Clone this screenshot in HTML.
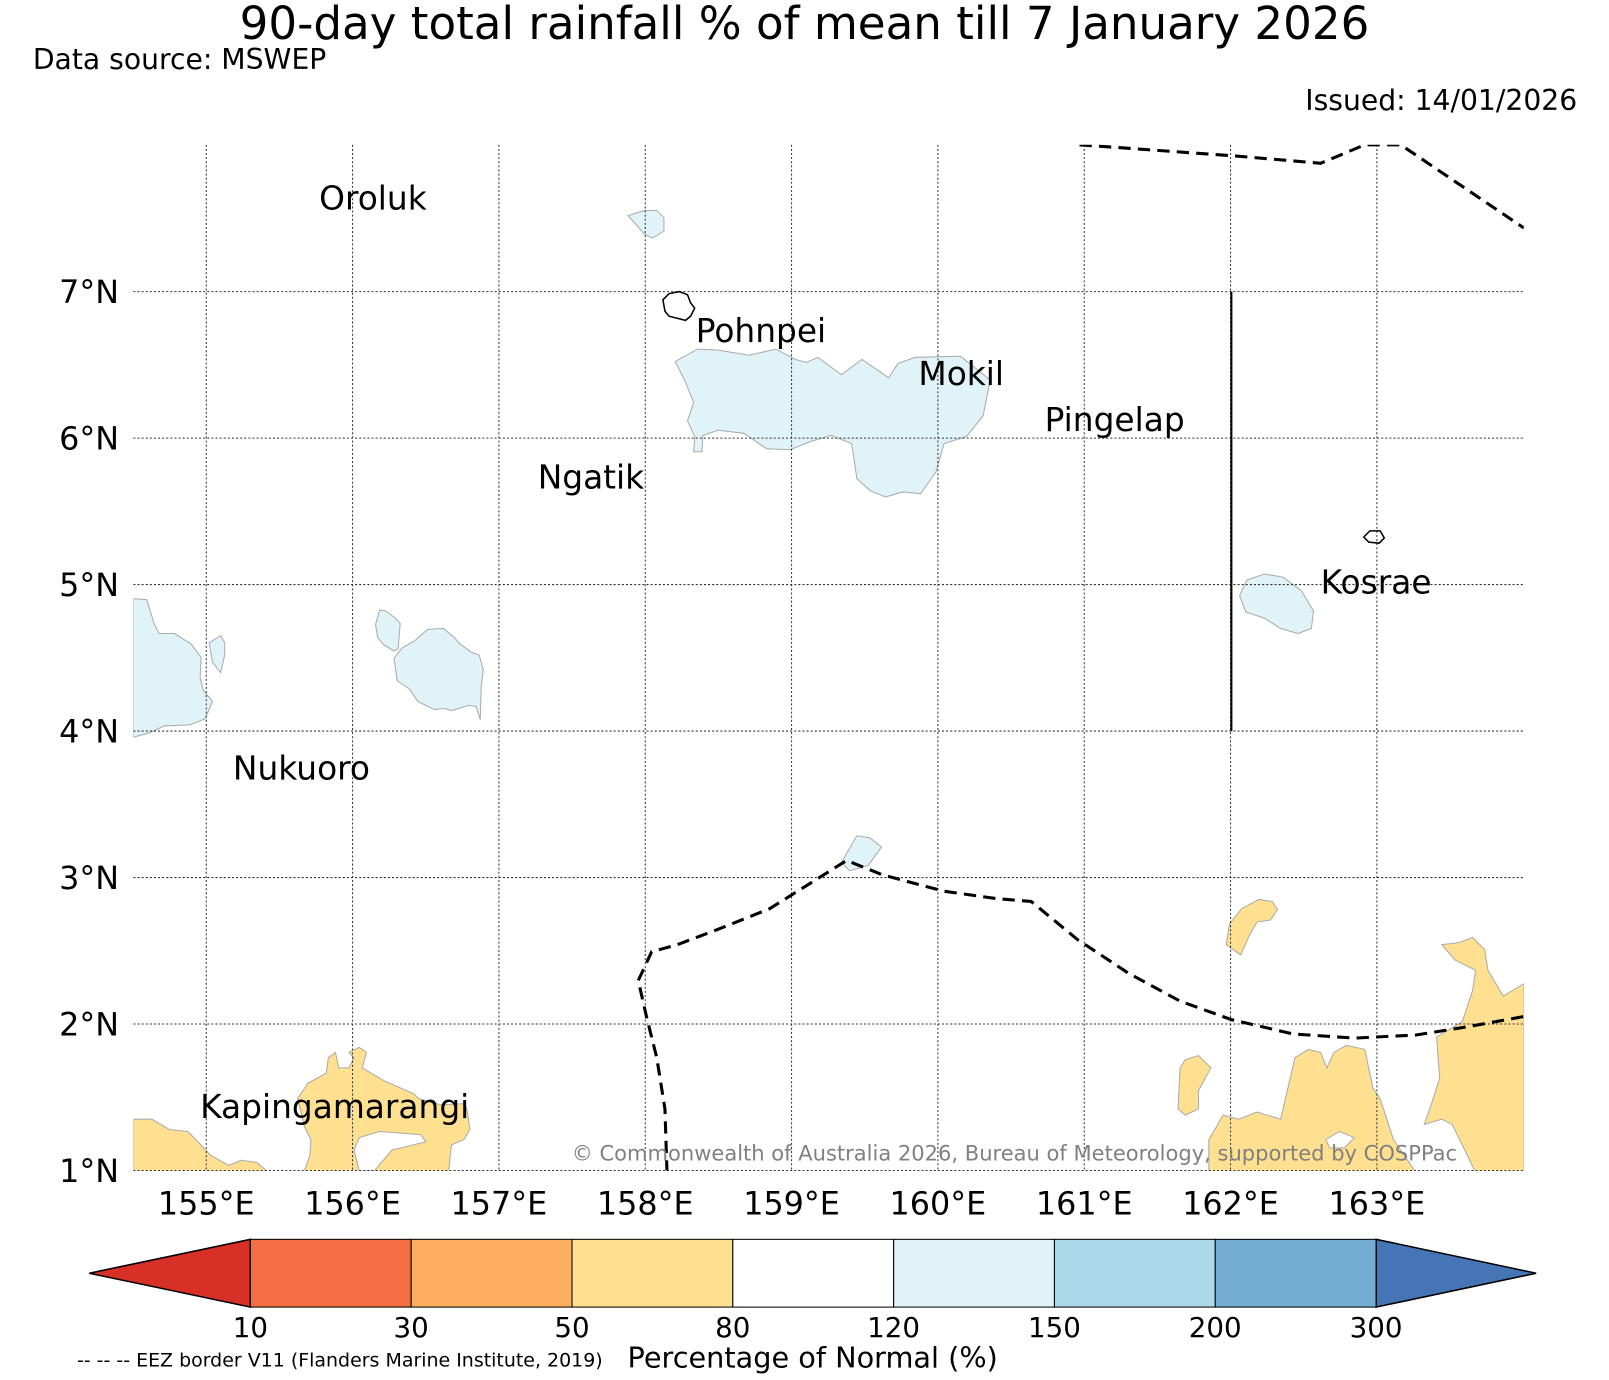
<!DOCTYPE html>
<html><head><meta charset="utf-8"><style>
html,body{margin:0;padding:0;background:#fff}
svg{display:block}
text{font-family:"DejaVu Sans","Liberation Sans",sans-serif}
</style></head><body>
<svg id="chart" width="1609" height="1380" viewBox="0 0 1568 1344" preserveAspectRatio="none" xmlns="http://www.w3.org/2000/svg">
<text x="784" y="38" font-size="44" text-anchor="middle">90-day total rainfall % of mean till 7 January 2026</text>
<text x="32" y="67" font-size="27.5">Data source: MSWEP</text>
<text x="1537" y="107" font-size="27.5" text-anchor="end">Issued: 14/01/2026</text>
<g id="map">
<clipPath id="mc"><rect x="130" y="141" width="1355" height="999"/></clipPath>
<g clip-path="url(#mc)" stroke="#aaa" stroke-width="1">
<path fill="#e0f3f8" d="M658,352 L680,340 L700,341 L730,346 L756,340 L775,350 L786,353 L797,348 L820,365 L840,350 L866,368 L875,354 L892,348 L936,347 L965,370 L958,405 L942,425 L920,432 L912,460 L897,481 L880,479 L863,484 L848,478 L835,466 L830,432 L810,424 L790,430 L770,438 L747,437 L725,422 L700,419 L685,424 L684,440 L676,440 L677,425 L670,410 L676,392 L668,372 Z"/>
<path fill="#e0f3f8" d="M612,210 L628,205 L640,205 L647,212 L647,225 L636,232 L628,228 Z"/>
<path fill="#e0f3f8" d="M130,583 L143,584 L150,607 L155,617 L170,617 L186,627 L196,640 L195,660 L198,672 L207,683 L200,700 L185,706 L160,707 L145,714 L130,718 Z"/>
<path fill="#e0f3f8" d="M204,626 L215,619 L219,626 L219,638 L215,655 L207,645 Z"/>
<path fill="#e0f3f8" d="M370,594 L376,595 L384,601 L390,607 L388,632 L384,634 L374,628 L368,621 L366,608 Z"/>
<path fill="#e0f3f8" d="M397,650 L405,640 L417,633 L430,622 L445,621 L456,630 L460,635 L472,644 L480,647 L484,661 L482,677 L481,710 L477,697 L470,696 L453,701 L446,699 L436,700 L420,692 L412,680 L400,672 Z" transform="translate(-13,-9)"/>
<path fill="#e0f3f8" d="M820,840 L835,814 L848,816 L859,825 L846,843 L828,848 Z"/>
<path fill="#e0f3f8" d="M1208,580 L1215,565 L1232,559 L1250,562 L1268,575 L1280,595 L1278,612 L1265,617 L1248,612 L1232,602 L1214,596 Z"/>
<path fill="#fee090" d="M130,1090 L148,1090 L165,1100 L183,1102 L191,1110 L205,1125 L223,1135 L235,1130 L250,1132 L262,1142 L130,1142 Z"/>
<path fill="#fee090" d="M296,1142 L302,1125 L303,1110 L297,1098 L290,1070 L300,1055 L318,1045 L320,1030 L327,1025 L330,1040 L340,1040 L345,1030 L340,1025 L350,1020 L357,1025 L353,1040 L375,1053 L403,1065 L408,1070 L430,1076 L452,1075 L455,1080 L458,1100 L452,1110 L440,1115 L437,1142 Z"/>
<path fill="#fee090" d="M1195,920 L1198,900 L1210,885 L1227,876 L1240,878 L1245,886 L1238,896 L1225,898 L1218,910 L1209,930 Z"/>
<path fill="#fee090" d="M1150,1040 L1155,1032 L1168,1028 L1180,1040 L1168,1062 L1168,1080 L1155,1086 L1148,1080 Z"/>
<path fill="#fee090" d="M1178,1110 L1192,1086 L1207,1090 L1225,1083 L1248,1090 L1255,1060 L1262,1030 L1275,1022 L1287,1025 L1293,1040 L1300,1025 L1312,1018 L1330,1022 L1338,1060 L1345,1070 L1358,1110 L1380,1142 L1178,1142 Z"/>
<path fill="#fee090" d="M1405,920 L1422,918 L1435,913 L1447,925 L1450,945 L1465,970 L1485,958 L1485,1142 L1438,1142 L1425,1115 L1415,1095 L1405,1090 L1388,1095 L1395,1075 L1403,1050 L1400,1010 L1425,995 L1435,965 L1438,945 L1418,935 Z"/>
<path fill="#fff" d="M345,1120 L350,1108 L370,1102 L410,1105 L415,1112 L395,1117 L382,1120 L365,1140 L350,1140 Z" stroke="#aaa"/>
<path fill="#fff" d="M1292,1110 L1305,1102 L1320,1108 L1310,1118 L1296,1118 Z"/>
</g>
<g id="grid" stroke="#333" stroke-width="1" stroke-dasharray="2,2"></g>
<g fill="none" stroke="#000" stroke-width="3" stroke-dasharray="12,7" clip-path="url(#mc)">
<path d="M1052,141 L1205,152 L1287,159 L1330,141 L1365,141 L1485,222"/>
<path d="M650,1142 L648,1080 L640,1030 L630,990 L622,955 L635,927 L660,920 L700,905 L750,885 L790,860 L825,838 L860,852 L920,868 L970,875 L1005,878 L1050,915 L1100,948 L1150,975 L1200,993 L1260,1007 L1320,1011 L1380,1008 L1430,1000 L1485,990"/>
</g>
<line x1="1200" y1="284" x2="1200" y2="712" stroke="#000" stroke-width="2"/>
<path fill="none" stroke="#000" stroke-width="1.5" d="M646,292 L652,286 L662,284 L670,287 L673,295 L677,300 L673,308 L668,312 L660,310 L652,308 L648,303 Z"/>
<path fill="none" stroke="#000" stroke-width="1.5" d="M1329,523 L1335,517 L1345,517 L1349,524 L1344,529 L1334,528 Z"/>
<g font-size="32">
<text x="311" y="204">Oroluk</text>
<text x="678" y="333">Pohnpei</text>
<text x="895" y="375">Mokil</text>
<text x="1018" y="420">Pingelap</text>
<text x="524" y="476">Ngatik</text>
<text x="1287" y="578">Kosrae</text>
<text x="227" y="759">Nukuoro</text>
<text x="195" y="1089">Kapingamarangi</text>
</g>
<text x="1420" y="1130" font-size="20.5" fill="#808080" text-anchor="end">© Commonwealth of Australia 2026, Bureau of Meteorology, supported by COSPPac</text>
<g id="ticks" font-size="31"></g>
</g>
<g id="cbar"></g>
<text x="792" y="1332" font-size="28" text-anchor="middle">Percentage of Normal (%)</text>
<text x="75" y="1331" font-size="18.5">-- -- -- EEZ border V11 (Flanders Marine Institute, 2019)</text>
</svg>
<script>
const lonTicks=[155,156,157,158,159,160,161,162,163];
const latTicks=[1,2,3,4,5,6,7];
const cbBounds=[10,30,50,80,120,150,200,300];
const cbColors=["#f46d43","#fdae61","#fee090","#ffffff","#e0f3f8","#abd9e9","#74add1"];
const cbExtendColors=["#d73027","#4575b4"];
const NS="http://www.w3.org/2000/svg";
const xLon=l=>201+(l-155)*142.6;
const yLat=l=>1140-(l-1)*142.67;
function mk(tag,attrs,parent){const e=document.createElementNS(NS,tag);for(const k in attrs)e.setAttribute(k,attrs[k]);parent.appendChild(e);return e;}
const grid=document.getElementById('grid'),ticks=document.getElementById('ticks');
lonTicks.forEach(l=>{
  const ln=mk('line',{x1:xLon(l),x2:xLon(l),y1:141,y2:1140},grid);
  
  
  const t=mk('text',{x:xLon(l),y:1183,'text-anchor':'middle'},ticks);
  t.textContent=l+'°E';
  
  
});
latTicks.forEach(l=>{
  const ln=mk('line',{x1:130,x2:1485,y1:yLat(l),y2:yLat(l)},grid);
  
  
  const t=mk('text',{x:116,y:yLat(l)+11,'text-anchor':'end'},ticks);
  t.textContent=l+'°N';
  
  
});
const cb=document.getElementById('cbar');
const cx0=244,cx1=1341,cy0=1207,cy1=1273,n=cbBounds.length-1;
const cbx=i=>cx0+(cx1-cx0)*i/n;
const lt=mk('polygon',{points:`87,1240 ${cx0},${cy0} ${cx0},${cy1}`,fill:cbExtendColors[0],stroke:'#000','stroke-width':1.5},cb);


const rt=mk('polygon',{points:`1497,1240 ${cx1},${cy0} ${cx1},${cy1}`,fill:cbExtendColors[1],stroke:'#000','stroke-width':1.5},cb);


cbColors.forEach((c,i)=>{
  const r=mk('rect',{x:cbx(i),y:cy0,width:cbx(i+1)-cbx(i),height:cy1-cy0,fill:c,stroke:'#000','stroke-width':1},cb);
  
  
});
cbBounds.forEach((b,i)=>{
  const t=mk('text',{x:cbx(i),y:1302,'text-anchor':'middle','font-size':27},cb);
  t.textContent=b;
  
  
});
</script>
</body></html>
